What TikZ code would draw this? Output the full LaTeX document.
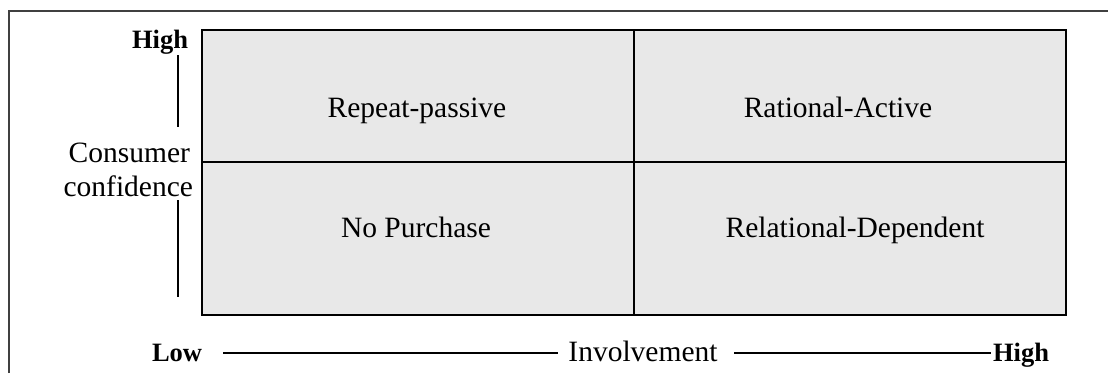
\documentclass[tikz,border=0pt]{standalone}
\usepackage{fontspec}
\setmainfont{Liberation Serif}
\tikzset{
  every node/.style={inner sep=0pt, outer sep=0pt},
  lbl/.style={font=\fontsize{29.5}{33}\selectfont, anchor=base},
  blbl/.style={font=\fontsize{26.5}{30}\selectfont\bfseries, anchor=base},
  gridline/.style={line width=2pt, black},
  axisline/.style={line width=2pt, black},
  framestroke/.style={line width=2pt, black!75},
  cellfill/.style={fill=black!9}
}
\begin{document}
\begin{tikzpicture}[x=1pt, y=-1pt]
  \useasboundingbox (0,0) rectangle (1108,373);
  % partial outer frame
  \draw[framestroke] (9,373) -- (9,11) -- (1108,11);
  % the 2x2 matrix
  \coordinate (tl) at (202,30);
  \coordinate (br) at (1066,315);
  \coordinate (mt) at (634,30);
  \coordinate (mb) at (634,315);
  \coordinate (ml) at (202,162);
  \coordinate (mr) at (1066,162);
  \fill[cellfill] (tl) rectangle (br);
  \draw[gridline] (tl) rectangle (br);
  \draw[gridline] (mt) -- (mb);
  \draw[gridline] (ml) -- (mr);
  % quadrant labels
  \node[lbl] (rp) at (417,117) {Repeat-passive};
  \node[lbl] (ra) at (838,117) {Rational-Active};
  \node[lbl] (np) at (416,237) {No Purchase};
  \node[lbl] (rd) at (855,237) {Relational-Dependent};
  % vertical axis
  \node[blbl, anchor=base east] (yhigh) at (188,48) {High};
  \node[lbl, anchor=base east] (ycons) at (190,162) {Consumer};
  \node[lbl, anchor=base east] (yconf) at (193,196) {confidence};
  \coordinate (v1a) at (178,55);
  \coordinate (v1b) at (178,127);
  \coordinate (v2a) at (178,200);
  \coordinate (v2b) at (178,297);
  \draw[axisline] (v1a) -- (v1b);
  \draw[axisline] (v2a) -- (v2b);
  % horizontal axis
  \node[blbl, anchor=base west] (xlow) at (152,361) {Low};
  \node[lbl] (xinv) at (643,361) {Involvement};
  \node[blbl, anchor=base east] (xhigh) at (1049,361) {High};
  \coordinate (h1a) at (223,353);
  \coordinate (h1b) at (558,353);
  \coordinate (h2a) at (734,353);
  \coordinate (h2b) at (991,353);
  \draw[axisline] (h1a) -- (h1b);
  \draw[axisline] (h2a) -- (h2b);
\end{tikzpicture}
\end{document}
